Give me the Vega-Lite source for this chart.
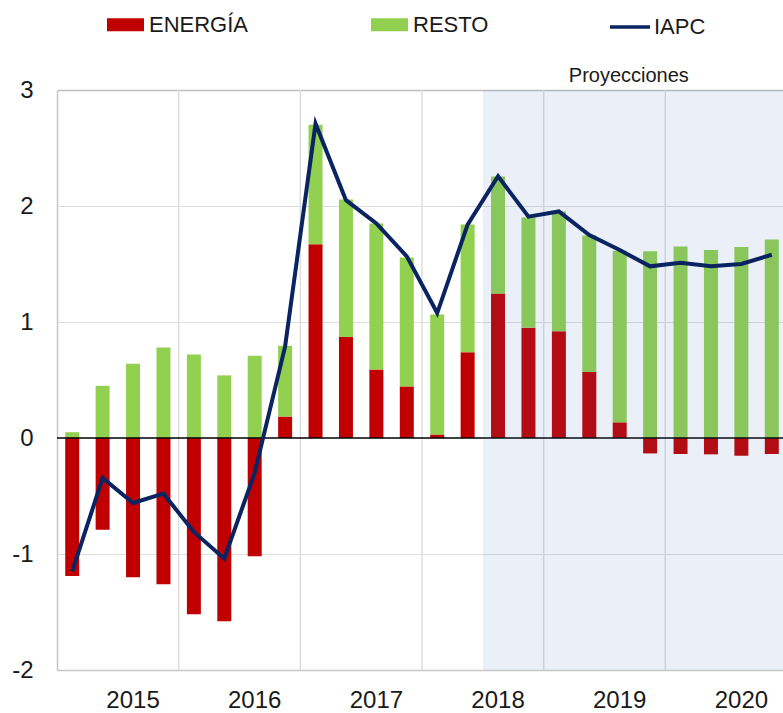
{
  "$schema": "https://vega.github.io/schema/vega-lite/v6.json",
  "width": 726,
  "height": 580,
  "autosize": {"type": "none"},
  "padding": {"left": 57, "top": 90, "right": 0, "bottom": 43},
  "background": "white",
  "config": {
    "view": {"stroke": null},
    "font": "Liberation Sans",
    "axis": {"labelFont": "Liberation Sans", "labelColor": "#1a1a1a"},
    "legend": {"labelFont": "Liberation Sans", "labelColor": "#1a1a1a"}
  },
  "datasets": {
    "bars": [
      {"q": "2015Q1", "comp": "ENERGÍA", "v": -1.19}, {"q": "2015Q1", "comp": "RESTO", "v": 0.05},
      {"q": "2015Q2", "comp": "ENERGÍA", "v": -0.79}, {"q": "2015Q2", "comp": "RESTO", "v": 0.45},
      {"q": "2015Q3", "comp": "ENERGÍA", "v": -1.20}, {"q": "2015Q3", "comp": "RESTO", "v": 0.64},
      {"q": "2015Q4", "comp": "ENERGÍA", "v": -1.26}, {"q": "2015Q4", "comp": "RESTO", "v": 0.78},
      {"q": "2016Q1", "comp": "ENERGÍA", "v": -1.52}, {"q": "2016Q1", "comp": "RESTO", "v": 0.72},
      {"q": "2016Q2", "comp": "ENERGÍA", "v": -1.58}, {"q": "2016Q2", "comp": "RESTO", "v": 0.54},
      {"q": "2016Q3", "comp": "ENERGÍA", "v": -1.02}, {"q": "2016Q3", "comp": "RESTO", "v": 0.71},
      {"q": "2016Q4", "comp": "ENERGÍA", "v": 0.185}, {"q": "2016Q4", "comp": "RESTO", "v": 0.61},
      {"q": "2017Q1", "comp": "ENERGÍA", "v": 1.67}, {"q": "2017Q1", "comp": "RESTO", "v": 1.03},
      {"q": "2017Q2", "comp": "ENERGÍA", "v": 0.87}, {"q": "2017Q2", "comp": "RESTO", "v": 1.185},
      {"q": "2017Q3", "comp": "ENERGÍA", "v": 0.59}, {"q": "2017Q3", "comp": "RESTO", "v": 1.26},
      {"q": "2017Q4", "comp": "ENERGÍA", "v": 0.445}, {"q": "2017Q4", "comp": "RESTO", "v": 1.11},
      {"q": "2018Q1", "comp": "ENERGÍA", "v": 0.03}, {"q": "2018Q1", "comp": "RESTO", "v": 1.035},
      {"q": "2018Q2", "comp": "ENERGÍA", "v": 0.74}, {"q": "2018Q2", "comp": "RESTO", "v": 1.10},
      {"q": "2018Q3", "comp": "ENERGÍA", "v": 1.245}, {"q": "2018Q3", "comp": "RESTO", "v": 1.01},
      {"q": "2018Q4", "comp": "ENERGÍA", "v": 0.95}, {"q": "2018Q4", "comp": "RESTO", "v": 0.95},
      {"q": "2019Q1", "comp": "ENERGÍA", "v": 0.92}, {"q": "2019Q1", "comp": "RESTO", "v": 1.035},
      {"q": "2019Q2", "comp": "ENERGÍA", "v": 0.57}, {"q": "2019Q2", "comp": "RESTO", "v": 1.175},
      {"q": "2019Q3", "comp": "ENERGÍA", "v": 0.135}, {"q": "2019Q3", "comp": "RESTO", "v": 1.48},
      {"q": "2019Q4", "comp": "ENERGÍA", "v": -0.133}, {"q": "2019Q4", "comp": "RESTO", "v": 1.61},
      {"q": "2020Q1", "comp": "ENERGÍA", "v": -0.138}, {"q": "2020Q1", "comp": "RESTO", "v": 1.65},
      {"q": "2020Q2", "comp": "ENERGÍA", "v": -0.141}, {"q": "2020Q2", "comp": "RESTO", "v": 1.62},
      {"q": "2020Q3", "comp": "ENERGÍA", "v": -0.153}, {"q": "2020Q3", "comp": "RESTO", "v": 1.647},
      {"q": "2020Q4", "comp": "ENERGÍA", "v": -0.138}, {"q": "2020Q4", "comp": "RESTO", "v": 1.712}
    ],
    "iapc": [
      {"q": "2015Q1", "serie": "IAPC", "v": -1.15},
      {"q": "2015Q2", "serie": "IAPC", "v": -0.345},
      {"q": "2015Q3", "serie": "IAPC", "v": -0.56},
      {"q": "2015Q4", "serie": "IAPC", "v": -0.48},
      {"q": "2016Q1", "serie": "IAPC", "v": -0.81},
      {"q": "2016Q2", "serie": "IAPC", "v": -1.04},
      {"q": "2016Q3", "serie": "IAPC", "v": -0.30},
      {"q": "2016Q4", "serie": "IAPC", "v": 0.79},
      {"q": "2017Q1", "serie": "IAPC", "v": 2.71},
      {"q": "2017Q2", "serie": "IAPC", "v": 2.05},
      {"q": "2017Q3", "serie": "IAPC", "v": 1.85},
      {"q": "2017Q4", "serie": "IAPC", "v": 1.566},
      {"q": "2018Q1", "serie": "IAPC", "v": 1.077},
      {"q": "2018Q2", "serie": "IAPC", "v": 1.84},
      {"q": "2018Q3", "serie": "IAPC", "v": 2.256},
      {"q": "2018Q4", "serie": "IAPC", "v": 1.908},
      {"q": "2019Q1", "serie": "IAPC", "v": 1.953},
      {"q": "2019Q2", "serie": "IAPC", "v": 1.75},
      {"q": "2019Q3", "serie": "IAPC", "v": 1.62},
      {"q": "2019Q4", "serie": "IAPC", "v": 1.48},
      {"q": "2020Q1", "serie": "IAPC", "v": 1.51},
      {"q": "2020Q2", "serie": "IAPC", "v": 1.48},
      {"q": "2020Q3", "serie": "IAPC", "v": 1.50},
      {"q": "2020Q4", "serie": "IAPC", "v": 1.58}
    ],
    "notes": [{"q": "2019Q3", "label": "Proyecciones"}],
    "shade": [{"q": "2018Q3"}],
    "zero": [{"v": 0}]
  },
  "layer": [
    {
      "data": {"name": "iapc"},
      "transform": [{"filter": "indexof(datum.q, 'Q1') > 0 && datum.q != '2015Q1'"}],
      "mark": {"type": "rule", "color": "#dedede", "strokeWidth": 1.5},
      "encoding": {
        "x": {"field": "q", "type": "ordinal", "bandPosition": 0}
      }
    },
    {
      "data": {"name": "bars"},
      "mark": {"type": "bar", "width": {"band": 0.46}},
      "encoding": {
        "x": {
          "field": "q", "type": "ordinal",
          "scale": {"range": [0, 730], "paddingInner": 0, "paddingOuter": 0},
          "axis": {
            "title": null,
            "ticks": false,
            "grid": false,
            "bandPosition": 0.5,
            "labelAlign": "center",
            "labelAngle": 0,
            "labelFontSize": 24,
            "labelPadding": 30,
            "domainColor": "#c8c8c8",
            "domainWidth": 1.5,
            "labelExpr": "indexof(datum.value, 'Q3') > 0 ? slice(datum.value, 0, 4) : ''"
          }
        },
        "y": {
          "field": "v", "type": "quantitative", "stack": "zero",
          "scale": {"domain": [-2, 3], "nice": false, "zero": false},
          "axis": {
            "title": null,
            "values": [-2, -1, 0, 1, 2, 3],
            "labelExpr": "datum.value < 0 ? '-' + abs(datum.value) : '' + datum.value",
            "ticks": false,
            "labelFontSize": 24,
            "labelPadding": 24,
            "domainColor": "#c8c8c8",
            "domainWidth": 1.5,
            "gridColor": {"condition": {"test": "datum.value === 3", "value": "#c0c0c0"}, "value": "#dedede"},
            "gridWidth": {"condition": {"test": "datum.value === 3", "value": 1.5}, "value": 1},
            "gridOpacity": {"condition": {"test": "datum.value === 0", "value": 0}, "value": 1}
          }
        },
        "color": {
          "field": "comp", "type": "nominal",
          "scale": {"domain": ["ENERGÍA", "RESTO"], "range": ["#c00000", "#92d050"]},
          "legend": {
            "orient": "none", "legendX": 50, "legendY": -84,
            "direction": "horizontal", "title": null,
            "symbolType": "M-1,-0.35H1V0.35H-1Z", "symbolSize": 1369,
            "symbolStrokeWidth": 0, "labelFontSize": 22, "labelOffset": 5,
            "columnPadding": 122, "padding": 0
          }
        },
        "order": {"field": "comp", "sort": "ascending"}
      }
    },
    {
      "data": {"name": "zero"},
      "mark": {"type": "rule", "color": "#000000", "strokeWidth": 1.5},
      "encoding": {"y": {"field": "v", "type": "quantitative"}}
    },
    {
      "data": {"name": "shade"},
      "mark": {"type": "rect", "color": "#4271bd", "opacity": 0.106},
      "encoding": {
        "x": {"field": "q", "type": "ordinal", "bandPosition": 0},
        "x2": {"value": "width"},
        "y": {"datum": 3, "type": "quantitative"},
        "y2": {"datum": -2}
      }
    },
    {
      "data": {"name": "iapc"},
      "mark": {"type": "line", "strokeWidth": 4, "strokeJoin": "miter"},
      "encoding": {
        "x": {"field": "q", "type": "ordinal"},
        "y": {"field": "v", "type": "quantitative"},
        "stroke": {
          "field": "serie", "type": "nominal",
          "scale": {"domain": ["IAPC"], "range": ["#0a2462"]},
          "legend": {
            "orient": "none", "legendX": 551, "legendY": -85,
            "title": null, "symbolType": "stroke", "symbolSize": 1600,
            "symbolStrokeWidth": 3.5, "labelFontSize": 22, "labelOffset": 2, "padding": 0
          }
        }
      }
    },
    {
      "data": {"name": "notes"},
      "mark": {"type": "text", "fontSize": 20, "baseline": "alphabetic", "dy": -8, "color": "#1a1a1a", "font": "Liberation Sans"},
      "encoding": {
        "x": {"field": "q", "type": "ordinal", "bandPosition": 0.8},
        "y": {"datum": 3, "type": "quantitative"},
        "text": {"field": "label"}
      }
    }
  ]
}
